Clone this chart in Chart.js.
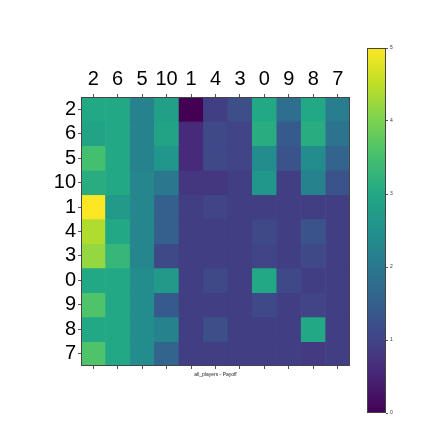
<!DOCTYPE html>
<html>
<head>
<meta charset="utf-8">
<script src="https://cdn.jsdelivr.net/npm/chart.js@4/dist/chart.umd.min.js"></script>
<style>
  html, body { margin: 0; padding: 0; background: #fff; }
  .box { position: absolute; left: 0; top: 0; width: 423px; height: 423px; }
</style>
</head>
<body>
<div class="box"><canvas id="heat"></canvas></div>
<div class="box"><canvas id="cbar"></canvas></div>
<script>
// players, same order on both axes
const players = ['2', '6', '5', '10', '1', '4', '3', '0', '9', '8', '7'];

// payoff per row player (columns in the order of players)
const row2  = [3.0, 3.0, 2.2, 2.8, 0.0, 0.9, 1.2, 3.0, 1.8, 3.0, 2.1];
const row6  = [2.9, 3.0, 2.2, 2.9, 0.6, 1.1, 1.0, 3.1, 1.4, 3.1, 1.9];
const row5  = [3.5, 3.0, 2.2, 2.6, 0.6, 1.1, 1.0, 2.4, 1.3, 2.4, 1.6];
const row10 = [3.1, 3.0, 2.3, 2.0, 0.8, 0.8, 0.9, 2.6, 0.9, 2.2, 1.3];
const row1  = [5.0, 2.7, 2.3, 1.5, 0.9, 1.0, 0.9, 0.9, 0.9, 0.9, 0.9];
const row4  = [4.4, 3.0, 2.3, 1.5, 0.9, 0.9, 0.9, 1.1, 0.9, 1.3, 0.9];
const row3  = [4.2, 3.3, 2.3, 1.1, 0.9, 0.9, 0.9, 1.0, 0.9, 1.1, 0.9];
const row0  = [3.0, 3.0, 2.4, 2.7, 0.9, 1.1, 0.9, 3.0, 1.1, 0.9, 0.9];
const row9  = [3.6, 3.0, 2.4, 1.4, 0.9, 0.9, 0.9, 1.1, 0.9, 1.0, 0.9];
const row8  = [3.0, 3.0, 2.4, 2.2, 0.9, 1.2, 0.9, 0.9, 0.9, 3.0, 0.9];
const row7  = [3.6, 3.0, 2.4, 1.6, 0.9, 0.9, 0.9, 0.9, 0.9, 0.85, 0.9];
const payoff = [row2, row6, row5, row10, row1, row4, row3, row0, row9, row8, row7];

const cbarTicks = [0, 1, 2, 3, 4, 5];
const vmin = 0, vmax = 5;

const viridis = ['#440154', '#482475', '#414487', '#355f8d', '#2a788e', '#21918c',
                 '#22a884', '#44bf70', '#7ad151', '#bddf26', '#fde725'];

function hexRgb(h) {
    return [1, 3, 5].map(i => parseInt(h.substr(i, 2), 16));
}
function cmap(v) {
    let t = Math.min(1, Math.max(0, (v - vmin) / (vmax - vmin))) * (viridis.length - 1);
    const i = Math.min(viridis.length - 2, Math.floor(t));
    const f = t - i;
    const a = hexRgb(viridis[i]), b = hexRgb(viridis[i + 1]);
    const c = a.map((x, k) => Math.round(x + (b[k] - x) * f));
    return 'rgb(' + c.join(',') + ')';
}

const frame = {
    id: 'frame',
    afterDraw(chart) {
        const {ctx, chartArea: a} = chart;
        ctx.save();
        ctx.strokeStyle = '#444';
        ctx.lineWidth = 1;
        ctx.strokeRect(a.left + 0.5, a.top + 0.5, a.right - a.left - 1, a.bottom - a.top - 1);
        ctx.restore();
    }
};

const tickFont = {family: 'Liberation Sans', size: 20};

new Chart(document.getElementById('heat'), {
    type: 'bar',
    data: {
        labels: players,
        datasets: payoff.map((row, i) => ({
            data: row.map(() => [i, i + 1]),
            backgroundColor: row.map(cmap),
            borderColor: row.map(cmap),
            borderWidth: 0.5,
            borderSkipped: false,
            barPercentage: 1,
            categoryPercentage: 1,
            grouped: false
        }))
    },
    options: {
        animation: false,
        responsive: true,
        maintainAspectRatio: false,
        devicePixelRatio: 1,
        layout: {padding: {left: 0, top: 0, right: 73, bottom: 45}},
        plugins: {legend: {display: false}, tooltip: {enabled: false}},
        scales: {
            x: {
                position: 'top',
                offset: true,
                grid: {offset: false, drawOnChartArea: false, tickLength: 3, color: '#555'},
                border: {display: false},
                ticks: {font: tickFont, color: '#000', padding: 3, maxRotation: 0, autoSkip: false},
                afterFit: s => { s.height = 97; }
            },
            x2: {
                type: 'category',
                position: 'bottom',
                offset: true,
                grid: {offset: false, drawOnChartArea: false, tickLength: 3, color: '#555'},
                border: {display: false},
                ticks: {callback: () => '', padding: 0},
                title: {display: true, text: 'all_players - Payoff',
                        font: {family: 'Liberation Sans', size: 5}, color: '#222', padding: 0},
                afterFit: s => { s.height = 12; }
            },
            y: {
                min: 0,
                max: players.length,
                reverse: true,
                grid: {drawOnChartArea: false, tickLength: 3, color: '#555'},
                border: {display: false},
                afterBuildTicks: s => { s.ticks = players.map((_, i) => ({value: i + 0.5})); },
                ticks: {font: tickFont, color: '#000', padding: 2, autoSkip: false,
                        callback: (v, i) => players[i]},
                afterFit: s => { s.width = 81; }
            }
        }
    },
    plugins: [frame]
});

new Chart(document.getElementById('cbar'), {
    type: 'bar',
    data: {
        labels: ['payoff'],
        datasets: [{
            data: [[vmin, vmax]],
            barPercentage: 1,
            categoryPercentage: 1,
            borderWidth: 0,
            backgroundColor: c => {
                const a = c.chart.chartArea;
                if (!a) return viridis[0];
                const g = c.chart.ctx.createLinearGradient(0, a.bottom, 0, a.top);
                viridis.forEach((col, k) => g.addColorStop(k / (viridis.length - 1), col));
                return g;
            }
        }]
    },
    options: {
        animation: false,
        responsive: true,
        maintainAspectRatio: false,
        devicePixelRatio: 1,
        layout: {padding: {left: 367, top: 48, right: 0, bottom: 10}},
        plugins: {legend: {display: false}, tooltip: {enabled: false}},
        scales: {
            x: {display: false},
            y: {
                position: 'right',
                min: vmin,
                max: vmax,
                afterBuildTicks: s => { s.ticks = cbarTicks.map(v => ({value: v})); },
                grid: {drawOnChartArea: false, tickLength: 2, color: '#555'},
                border: {display: false},
                ticks: {font: {family: 'Liberation Sans', size: 5}, color: '#333', padding: 2},
                afterFit: s => { s.width = 37; }
            }
        }
    },
    plugins: [frame]
});
</script>
</body>
</html>
